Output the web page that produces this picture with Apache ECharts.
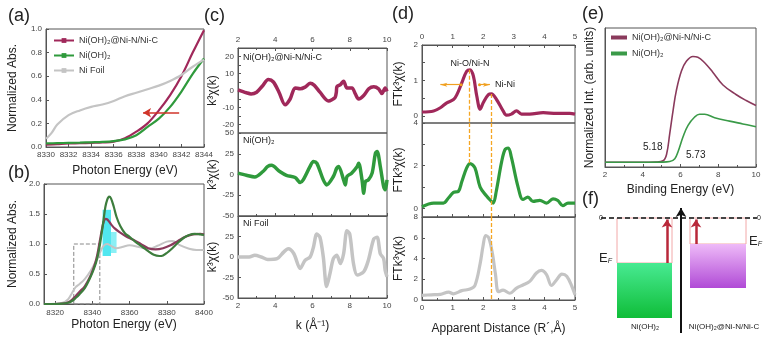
<!DOCTYPE html>
<html><head><meta charset="utf-8">
<script src="https://cdn.jsdelivr.net/npm/echarts@6/dist/echarts.min.js"></script>
<style>html,body{margin:0;padding:0;background:#fff}#c{width:779px;height:337px}</style>
</head><body><div id="c"></div>
<script>
// ---------- (a) XANES pre-edge ----------
const aX = [8330, 8331, 8332, 8333, 8334, 8335, 8336, 8337, 8338, 8339, 8340, 8341, 8342, 8343, 8344];
const aHyb = [0.02, 0.025, 0.03, 0.032, 0.035, 0.038, 0.045, 0.075, 0.13, 0.2, 0.31, 0.44, 0.6, 0.8, 0.99];
const aOH = [0.03, 0.033, 0.035, 0.037, 0.04, 0.043, 0.05, 0.065, 0.1, 0.17, 0.24, 0.34, 0.47, 0.62, 0.75];
const aFoilX = [8330, 8330.5, 8331, 8332, 8333, 8334, 8335, 8336, 8337, 8338, 8339, 8340, 8341, 8342, 8343, 8344];
const aFoil = [0.07, 0.12, 0.19, 0.27, 0.31, 0.34, 0.36, 0.39, 0.43, 0.46, 0.49, 0.52, 0.56, 0.61, 0.68, 0.74];
const aArrow = [[8341.8, 0.29], [8338.6, 0.29]];
// ---------- (b) XANES full ----------
const bOHX = [8314, 8320, 8324, 8327, 8329, 8331, 8333, 8336, 8339, 8341, 8342.5, 8344, 8345, 8346, 8347, 8348, 8349, 8350, 8351.5, 8353, 8355, 8357.5, 8360, 8363, 8367, 8370, 8373, 8376, 8378, 8380, 8383, 8386, 8389, 8392, 8395, 8398, 8400];
const bOH = [0, 0, 0.005, 0.02, 0.05, 0.1, 0.16, 0.27, 0.45, 0.6, 0.75, 0.98, 1.18, 1.4, 1.62, 1.74, 1.79, 1.76, 1.62, 1.45, 1.3, 1.18, 1.12, 1.04, 0.95, 0.88, 0.82, 0.8, 0.81, 0.85, 0.93, 1.02, 1.1, 1.15, 1.17, 1.16, 1.15];
const bHybX = [8314, 8320, 8324, 8327, 8329, 8331, 8333, 8336, 8339, 8341, 8342.5, 8344, 8345, 8346, 8347, 8348, 8350, 8352, 8355, 8358, 8362, 8366, 8370, 8374, 8378, 8382, 8386, 8390, 8394, 8398, 8400];
const bHyb = [0, 0, 0.005, 0.03, 0.07, 0.13, 0.2, 0.3, 0.47, 0.63, 0.8, 1.05, 1.22, 1.36, 1.42, 1.41, 1.33, 1.26, 1.19, 1.13, 1.07, 1.0, 0.93, 0.91, 0.93, 0.98, 1.05, 1.12, 1.16, 1.17, 1.16];
const bFoilX = [8314, 8320, 8324, 8327, 8329, 8331, 8333, 8336, 8339, 8342, 8344, 8346, 8348, 8350, 8353, 8356, 8360, 8365, 8370, 8375, 8380, 8383, 8387, 8392, 8396, 8400];
const bFoil = [0, 0.005, 0.02, 0.08, 0.18, 0.28, 0.33, 0.42, 0.55, 0.72, 0.85, 0.97, 1.0, 0.97, 0.93, 0.95, 0.98, 0.95, 0.92, 0.97, 1.04, 1.05, 0.98, 0.92, 0.9, 0.9];
const bBox = [[8330, 0], [8344, 1.0]];
const bCyan = [[8345.5, 0.8], [8350, 1.57]];
const bCyan2 = [[8350, 0.85], [8353, 1.2]];
// ---------- (c) EXAFS k-space ----------
const cHybK = [2, 2.45, 2.7, 3.0, 3.3, 3.63, 3.9, 4.2, 4.53, 4.8, 5.07, 5.34, 5.6, 5.87, 6.1, 6.4, 6.86, 7.1, 7.22, 7.28, 7.31, 7.5, 7.67, 7.85, 8.12, 8.3, 8.48, 8.75, 9.02, 9.29, 9.55, 9.73, 9.9, 10];
const cHyb = [0.4, -1.3, -2, -1, 2.5, 6.4, 5, -1, -8.4, -5, 1.5, 1, 2, 4.2, 3, -1, -6.2, -5, -4, -1, 2.2, 3.5, 5.5, 1.5, 1.5, -2, -5, -3, 1, 2.2, 1, -1.8, 1.5, -0.5];
const cOHK = [2, 2.45, 2.9, 3.34, 3.6, 3.8, 4.24, 4.6, 5.07, 5.34, 5.5, 5.87, 6.05, 6.23, 6.58, 6.76, 7.12, 7.3, 7.4, 7.67, 7.76, 7.85, 8.1, 8.4, 8.48, 8.66, 8.75, 8.84, 9.0, 9.2, 9.38, 9.47, 9.64, 9.82, 9.91, 10];
const cOH = [1.6, -1, -3, 3.6, 9.7, 11, 3.6, -1, -3.6, -9.7, -6.5, 9.7, 15.7, 13.7, -6.5, -12.5, -2.4, 7.7, 9.7, -6.5, -12.5, -2.4, 1.6, 9.7, 13.7, -6.5, -22.6, -8.5, -6.5, 1.6, 25.8, 27.8, 9.7, -14.5, -18.5, -6.5];
const cFoilK = [2, 2.6, 2.9, 3.25, 3.6, 4.1, 4.45, 4.7, 5, 5.34, 5.6, 5.87, 6.05, 6.23, 6.4, 6.58, 6.76, 6.94, 7.12, 7.3, 7.5, 7.67, 7.85, 8.0, 8.2, 8.4, 8.75, 9.0, 9.29, 9.47, 9.64, 9.82, 9.9, 10];
const cFoil = [0, 0, 2, 0, -3, -2, 6, 10, 4, -14, -4, 0, 12, 28, 24, 0, -36, -20, -2, 2, -8, 4, 32, 28, -8, -22, -18, -4, 22, 24, 4, -2, -16, -24];
// ---------- (d) EXAFS R-space ----------
const dHybR = [0, 0.38, 0.6, 0.81, 1.03, 1.14, 1.3, 1.46, 1.57, 1.68, 1.79, 1.9, 2.0, 2.17, 2.27, 2.43, 2.65, 2.76, 2.92, 3.09, 3.25, 3.52, 3.96, 4.4, 4.83, 5];
const dHyb = [0.11, 0.14, 0.23, 0.37, 0.46, 0.6, 0.93, 1.26, 1.3, 1.12, 0.56, 0.19, 0.37, 0.6, 0.62, 0.47, 0.14, 0.02, 0.05, 0.14, 0.05, 0.05, 0.09, 0.07, 0.07, 0.05];
const dOHR = [0, 0.38, 0.7, 0.87, 1.03, 1.19, 1.3, 1.46, 1.57, 1.73, 1.9, 2.11, 2.27, 2.33, 2.43, 2.6, 2.71, 2.82, 2.92, 3.14, 3.3, 3.46, 3.63, 3.85, 4.07, 4.28, 4.44, 4.6, 4.77, 5];
const dOH = [0.08, 0.25, 0.25, 0.5, 0.75, 0.8, 1.25, 1.9, 2.1, 1.9, 1.0, 0.58, 0.33, 0.25, 0.83, 2.17, 2.75, 2.83, 2.4, 1.0, 0.42, 0.53, 0.33, 0.38, 0.25, 0.45, 0.37, 0.13, 0.25, 0.25];
const dFoilR = [0, 0.3, 0.6, 0.87, 1.03, 1.3, 1.57, 1.73, 1.9, 2.0, 2.08, 2.18, 2.3, 2.4, 2.5, 2.65, 2.87, 3.09, 3.3, 3.52, 3.74, 3.9, 4.07, 4.23, 4.4, 4.57, 4.73, 4.9, 5];
const dFoil = [0.45, 0.5, 0.55, 0.75, 0.6, 0.9, 1.05, 1.4, 3.5, 5.3, 6.2, 6.0, 4.5, 2.5, 0.8, 0.95, 0.65, 1.15, 1.45, 1.8, 2.6, 2.85, 2.45, 1.4, 1.95, 2.5, 2.3, 1.3, 0.5];
const dLineNiO = 1.55, dLineNiNi = 2.25;
// ---------- (e) UPS valence band ----------
const eHybE = [2, 3, 4, 4.7, 5.08, 5.26, 5.43, 5.61, 5.78, 6.05, 6.31, 6.66, 6.92, 7.28, 7.72, 8.25, 8.96, 9.48, 10];
const eHyb = [0.034, 0.034, 0.034, 0.036, 0.045, 0.09, 0.24, 0.41, 0.55, 0.69, 0.76, 0.795, 0.79, 0.75, 0.68, 0.59, 0.52, 0.478, 0.442];
const eOHE = [2, 3, 4, 5, 5.43, 5.7, 5.87, 6.14, 6.4, 6.75, 7.01, 7.28, 7.81, 8.6, 9.3, 10];
const eOH = [0.034, 0.034, 0.034, 0.035, 0.039, 0.06, 0.11, 0.22, 0.3, 0.36, 0.38, 0.38, 0.355, 0.33, 0.31, 0.29];
// ---------- (f) band diagram ----------
const fNames = ['Ni(OH)₂', 'Ni(OH)₂@Ni-N/Ni-C'];
const fLeft = [20, 93];
const fRight = [75, 149];
const fTop = [-4.5, -2.6];
const fBottom = [-10, -7.0];
const fArrowX = [70, 99];
const fAxisX = 84;

const FF = "'Liberation Sans', Arial, sans-serif";
const HYB = '#a0285a', OHC = '#2f9a3c', FOIL = '#c4c4c4';
const zip = (xs, ys) => xs.map((x, i) => [x, ys[i]]);

const grids = [
  {left: 46, top: 29, width: 158, height: 118},   // a
  {left: 44, top: 184, width: 160, height: 120},  // b
  {left: 238, top: 48, width: 149, height: 85},   // c1
  {left: 238, top: 133, width: 149, height: 83},  // c2
  {left: 238, top: 216, width: 149, height: 82},  // c3
  {left: 422, top: 45, width: 153, height: 78},   // d1
  {left: 422, top: 123, width: 153, height: 94},  // d2
  {left: 422, top: 217, width: 153, height: 83},  // d3
  {left: 605, top: 28, width: 151, height: 139},  // e
  {left: 597, top: 205, width: 163, height: 130}  // f
].map((g, i) => Object.assign({show: i !== 9, borderColor: '#555', borderWidth: 1, backgroundColor: 'transparent'}, g));

function ax(gi, min, max, extra) {
  const base = {
    type: 'value', gridIndex: gi, min: min, max: max,
    axisLine: {show: true, onZero: false, lineStyle: {color: '#555', width: 1}},
    axisTick: {show: true, inside: true, length: 3, lineStyle: {color: '#555'}},
    axisLabel: {show: true, fontSize: 8, color: '#444', fontFamily: FF, margin: 4},
    splitLine: {show: false},
    nameTextStyle: {fontSize: 12, color: '#222', fontFamily: FF},
    nameLocation: 'middle'
  };
  return Object.assign(base, extra || {});
}
const hideLbl = {show: false};
const minor = {show: true, splitNumber: 2, length: 2, lineStyle: {color: '#555'}};

const xAxes = [
  ax(0, 8330, 8344, {interval: 2, name: 'Photon Energy (eV)', nameGap: 18,
    axisLabel: {fontSize: 8, color: '#444', fontFamily: FF, margin: 4, formatter: v => String(v)}}),
  ax(1, 8314, 8400, {splitNumber: 4, name: 'Photon Energy (eV)', nameGap: 15,
    axisLabel: {fontSize: 8, color: '#444', fontFamily: FF, margin: 5, formatter: v => (v % 20 === 0 ? String(v) : '')}}),
  ax(2, 2, 10, {interval: 2, position: 'top', minorTick: minor}),
  ax(3, 2, 10, {interval: 2, axisLabel: hideLbl, minorTick: minor}),
  ax(4, 2, 10, {interval: 2, minorTick: minor, name: 'k (Å⁻¹)', nameGap: 22}),
  ax(5, 0, 5, {interval: 1, position: 'top', minorTick: minor}),
  ax(6, 0, 5, {interval: 1, axisLabel: hideLbl, minorTick: minor}),
  ax(7, 0, 5, {interval: 1, minorTick: minor, name: 'Apparent Distance (R´,Å)', nameGap: 23}),
  ax(8, 2, 10, {interval: 2, minorTick: minor, name: 'Binding Energy (eV)', nameGap: 17}),
  ax(9, 0, 163, {show: false})
];
const intLbl = (mod) => ({fontSize: 8, color: '#444', fontFamily: FF, margin: 4, formatter: v => (Math.abs(v % mod) < 1e-9 ? String(v) : '')});
const yAxes = [
  ax(0, 0, 1, {interval: 0.2, name: 'Normalized Abs.', nameGap: 27, axisLabel: {fontSize: 8, color: '#444', fontFamily: FF, margin: 4, formatter: v => v.toFixed(1)}}),
  ax(1, 0, 2, {interval: 0.5, name: 'Normalized Abs.', nameGap: 25, axisLabel: {fontSize: 8, color: '#444', fontFamily: FF, margin: 4, formatter: v => v.toFixed(1)}}),
  ax(2, -25, 25, {interval: 5, name: 'k³χ(k)', nameGap: 19, axisLabel: intLbl(10)}),
  ax(3, -50, 50, {interval: 25, name: 'k³χ(k)', nameGap: 19}),
  ax(4, -50, 50, {interval: 25, name: 'k³χ(k)', nameGap: 19, axisLabel: {fontSize: 8, color: '#444', fontFamily: FF, margin: 4, formatter: v => (v === 50 ? '' : String(v))}}),
  ax(5, -0.2, 2, {name: 'FTk³χ(k)', nameGap: 17, axisLabel: intLbl(1)}),
  ax(6, -0.4, 4, {name: 'FTk³χ(k)', nameGap: 17, axisLabel: intLbl(2)}),
  ax(7, 0, 8, {interval: 2, name: 'FTk³χ(k)', nameGap: 17}),
  ax(8, 0, 1, {name: 'Normalized Int. (arb. units)', nameGap: 9, axisLabel: hideLbl, axisTick: {show: false}, nameTextStyle: {fontSize: 12, color: '#222', fontFamily: FF}}),
  ax(9, -11.7, 1.3, {show: false})
];

function line(name, xs, ys, gi, color, width, extra) {
  return Object.assign({
    type: 'line', name: name, xAxisIndex: gi, yAxisIndex: gi, data: zip(xs, ys),
    showSymbol: false, symbol: 'rect', symbolSize: 5, smooth: 0.35, z: 3,
    lineStyle: {color: color, width: width}, itemStyle: {color: color}
  }, extra || {});
}

const yellow = '#f5a623';
const yLine = {color: yellow, type: [4, 2], width: 1.3};
const series = [
  line('Ni(OH)₂@Ni-N/Ni-C', aX, aHyb, 0, HYB, 2.2, {
    markLine: {silent: true, symbol: ['none', 'arrow'], symbolSize: [7, 8], label: {show: false},
      lineStyle: {color: '#d0352a', width: 1.5, type: 'solid'},
      data: [[{coord: aArrow[0]}, {coord: aArrow[1]}]]}
  }),
  line('Ni(OH)₂', aX, aOH, 0, OHC, 2.2),
  line('Ni Foil', aFoilX, aFoil, 0, FOIL, 2.2),
  line('b-foil', bFoilX, bFoil, 1, FOIL, 2, {
    markArea: {silent: true, z: 1, data: [
      [{coord: bCyan[0], itemStyle: {color: '#3ee4ee', opacity: 0.9}}, {coord: bCyan[1]}],
      [{coord: bCyan2[0], itemStyle: {color: '#3ee4ee', opacity: 0.6}}, {coord: bCyan2[1]}],
      [{coord: bBox[0], itemStyle: {color: 'rgba(0,0,0,0)', borderColor: '#888', borderType: 'dashed', borderWidth: 1}}, {coord: bBox[1]}]
    ]}
  }),
  line('b-hyb', bHybX, bHyb, 1, '#8a3a5c', 2.2),
  line('b-oh', bOHX, bOH, 1, '#3d7d3d', 2.2),
  line('c-hyb', cHybK, cHyb, 2, HYB, 3.5, {smooth: 0.3}),
  line('c-oh', cOHK, cOH, 3, OHC, 3.5, {smooth: 0.3}),
  line('c-foil', cFoilK, cFoil, 4, FOIL, 3.5, {smooth: 0.3}),
  line('d-hyb', dHybR, dHyb, 5, HYB, 3.2, {
    markLine: {silent: true, symbol: 'none', label: {show: false}, lineStyle: yLine,
      data: [[{coord: [dLineNiO, 1.3]}, {coord: [dLineNiO, -0.2]}], [{coord: [dLineNiNi, 0.62]}, {coord: [dLineNiNi, -0.2]}]]}
  }),
  line('d-oh', dOHR, dOH, 6, OHC, 3.2, {
    markLine: {silent: true, symbol: 'none', label: {show: false}, lineStyle: yLine,
      data: [[{coord: [dLineNiO, 4]}, {coord: [dLineNiO, 2.1]}], [{coord: [dLineNiNi, 4]}, {coord: [dLineNiNi, -0.4]}]]}
  }),
  line('d-foil', dFoilR, dFoil, 7, FOIL, 3.2, {
    markLine: {silent: true, symbol: 'none', label: {show: false}, lineStyle: yLine,
      data: [[{coord: [dLineNiNi, 8]}, {coord: [dLineNiNi, 0]}]]}
  }),
  {type: 'line', name: 'd-arrows', xAxisIndex: 5, yAxisIndex: 5, data: [],
    markLine: {silent: true, symbol: ['circle', 'arrow'], symbolSize: [3, 7], label: {show: false},
      lineStyle: {color: '#f0a020', type: 'solid', width: 1.2},
      data: [[{coord: [1.28, 0.88]}, {coord: [0.6, 0.88]}], [{coord: [1.88, 0.88]}, {coord: [2.22, 0.88]}]]}},
  line('Ni(OH)₂@Ni-N/Ni-C ', eHybE, eHyb, 8, '#8a3a5c', 1.6, {smooth: 0.4}),
  line('Ni(OH)₂ ', eOHE, eOH, 8, '#3a9a48', 1.6, {smooth: 0.4}),
  {type: 'custom', name: 'f-bands', xAxisIndex: 9, yAxisIndex: 9,
    data: fNames.map((n, i) => [fLeft[i], fRight[i], fTop[i], fBottom[i], i]),
    renderItem: function (params, api) {
      const p0 = api.coord([api.value(0), api.value(2)]);
      const p1 = api.coord([api.value(1), api.value(3)]);
      const z0 = api.coord([api.value(0), 0]);
      const idx = api.value(4);
      const grad = idx === 0
        ? new echarts.graphic.LinearGradient(0, 0, 0, 1, [{offset: 0, color: '#48ea92'}, {offset: 1, color: '#0fbd38'}])
        : new echarts.graphic.LinearGradient(0, 0, 0, 1, [{offset: 0, color: '#eebaf8'}, {offset: 1, color: '#b04ad6'}]);
      return {type: 'group', children: [
        {type: 'rect', shape: {x: p0[0], y: z0[1], width: p1[0] - p0[0], height: p0[1] - z0[1]}, style: {fill: 'none', stroke: '#f2a8a8', lineWidth: 1}},
        {type: 'rect', shape: {x: p0[0], y: p0[1], width: p1[0] - p0[0], height: p1[1] - p0[1]}, style: {fill: grad}}
      ]};
    }},
  {type: 'line', name: 'f-zero', xAxisIndex: 9, yAxisIndex: 9, data: [],
    markLine: {silent: true, symbol: 'none', label: {show: false}, lineStyle: {color: '#444', type: [5, 3], width: 2},
      data: [[{coord: [4, 0]}, {coord: [160, 0]}]]}},
  {type: 'line', name: 'f-red', xAxisIndex: 9, yAxisIndex: 9, data: [],
    markLine: {silent: true, symbol: ['none', 'arrow'], symbolSize: [8, 8], label: {show: false}, lineStyle: {color: '#b8283a', type: 'solid', width: 2.5},
      data: fArrowX.map((x, i) => [{coord: [x, fTop[i]]}, {coord: [x, -0.15]}])}},
  {type: 'line', name: 'f-axis', xAxisIndex: 9, yAxisIndex: 9, data: [],
    markLine: {silent: true, symbol: ['none', 'arrow'], symbolSize: [8, 9], label: {show: false}, lineStyle: {color: '#111', type: 'solid', width: 2},
      data: [[{coord: [fAxisX, -11.5]}, {coord: [fAxisX, 1.0]}]]}}
];

function T(x, y, text, size, o) {
  return {type: 'text', x: x, y: y, z: 100, style: Object.assign({text: text, fontSize: size, fontFamily: FF, fill: '#222', align: 'left', verticalAlign: 'middle'}, o || {})};
}
const efRich = {e: {fontSize: 13, fontFamily: FF, fill: '#222'}, f: {fontSize: 7, fontStyle: 'italic', fontFamily: FF, fill: '#222', verticalAlign: 'bottom'}};
const graphic = [
  T(8, 16, '(a)', 18), T(8, 173, '(b)', 18), T(204, 16, '(c)', 18), T(392, 14, '(d)', 18), T(582, 14, '(e)', 18), T(582, 199, '(f)', 18),
  T(243, 58, 'Ni(OH)₂@Ni-N/Ni-C', 9), T(243, 141, 'Ni(OH)₂', 9), T(243, 224, 'Ni Foil', 9),
  T(470, 64, 'Ni-O/Ni-N', 9, {align: 'center'}), T(495, 85, 'Ni-Ni', 9),
  T(643, 147, '5.18', 10), T(686, 155, '5.73', 10),
  T(599, 218, '0', 7), T(757, 218, '0', 7),
  T(599, 258, '{e|E}{f|F}', 13, {rich: efRich}), T(749, 241, '{e|E}{f|F}', 13, {rich: efRich}),
  T(645, 327, 'Ni(OH)₂', 8, {align: 'center'}), T(724, 327, 'Ni(OH)₂@Ni-N/Ni-C', 8, {align: 'center'})
];

const option = {
  animation: false,
  backgroundColor: '#fff',
  textStyle: {fontFamily: FF},
  grid: grids, xAxis: xAxes, yAxis: yAxes, series: series, graphic: graphic,
  legend: [
    {data: ['Ni(OH)₂@Ni-N/Ni-C', 'Ni(OH)₂', 'Ni Foil'], orient: 'vertical', left: 48, top: 31, itemGap: 6,
      itemWidth: 20, itemHeight: 6, textStyle: {fontSize: 9, color: '#333', fontFamily: FF}, selectedMode: false},
    {data: ['Ni(OH)₂@Ni-N/Ni-C ', 'Ni(OH)₂ '], orient: 'vertical', left: 606, top: 28, itemGap: 7,
      itemWidth: 16, itemHeight: 4, icon: 'rect', textStyle: {fontSize: 9, color: '#333', fontFamily: FF}, selectedMode: false}
  ]
};
echarts.init(document.getElementById('c')).setOption(option);
</script></body></html>
